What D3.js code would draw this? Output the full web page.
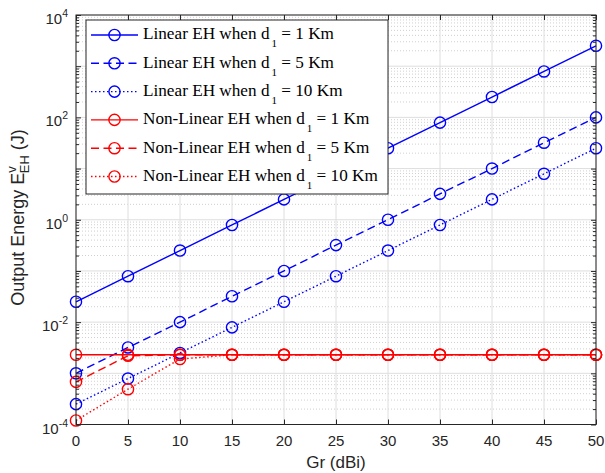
<!DOCTYPE html>
<html>
<head>
<meta charset="utf-8">
<script src="https://cdn.jsdelivr.net/npm/d3@7"></script>
<style>
  html, body { margin: 0; padding: 0; background: #fff; }
  svg { display: block; }
</style>
</head>
<body>
<svg id="chart" width="605" height="473"></svg>
<script>
// Receive antenna gain (dBi)
const gain = [0, 5, 10, 15, 20, 25, 30, 35, 40, 45, 50];

// Harvested energy (J) for each model and distance d1
const linear1km  = [0.025, 0.079, 0.25, 0.79, 2.5, 7.9, 25, 79, 250, 790, 2500];
const linear5km  = [0.001, 0.0032, 0.01, 0.032, 0.1, 0.32, 1.0, 3.2, 10, 32, 100];
const linear10km = [0.00025, 0.00079, 0.0025, 0.0079, 0.025, 0.079, 0.25, 0.79, 2.5, 7.9, 25];
const nonlin1km  = [0.0023, 0.0023, 0.0023, 0.0023, 0.0023, 0.0023, 0.0023, 0.0023, 0.0023, 0.0023, 0.0023];
const nonlin5km  = [0.00068, 0.0022, 0.0023, 0.0023, 0.0023, 0.0023, 0.0023, 0.0023, 0.0023, 0.0023, 0.0023];
const nonlin10km = [0.00012, 0.00049, 0.0019, 0.0023, 0.0023, 0.0023, 0.0023, 0.0023, 0.0023, 0.0023, 0.0023];

const xTicks = [0, 5, 10, 15, 20, 25, 30, 35, 40, 45, 50];
const yExponents = [-4, -2, 0, 2, 4];

const seriesNames = ["Linear EH", "Linear EH", "Linear EH", "Non-Linear EH", "Non-Linear EH", "Non-Linear EH"];
const seriesDist = [1, 5, 10, 1, 5, 10];

const series = [
  { values: linear1km,  color: "#0000ff", dash: null },
  { values: linear5km,  color: "#0000ff", dash: "8,4.5" },
  { values: linear10km, color: "#0000ff", dash: "1.5,2.5" },
  { values: nonlin1km,  color: "#ff0000", dash: null },
  { values: nonlin5km,  color: "#ff0000", dash: "8,4.5" },
  { values: nonlin10km, color: "#ff0000", dash: "1.5,2.5" }
].map((s, i) => ({ ...s, name: seriesNames[i], dist: seriesDist[i] }));

const svg = d3.select("#chart");
const plotL = 76, plotR = 596, plotT = 15, plotB = 424.5;
const axisColor = "#262626";
const sansFont = "'Liberation Sans', Arial, Helvetica, sans-serif";
const serifFont = "'Liberation Serif', 'Times New Roman', serif";

const x = d3.scaleLinear().domain([0, 50]).range([plotL, plotR]);
const y = d3.scaleLog().domain([1e-4, 1e4]).range([plotB, plotT]);

// Minor values: 2..9 in every decade
const minorVals = [];
for (let e = -4; e < 4; e++) {
  for (let m = 2; m <= 9; m++) minorVals.push(m * Math.pow(10, e));
}
const majorVals = d3.range(-4, 5).map(e => Math.pow(10, e));

const grid = svg.append("g");
// minor horizontal grid (dotted)
grid.selectAll("line.minor").data(minorVals).join("line")
  .attr("x1", plotL).attr("x2", plotR)
  .attr("y1", d => y(d)).attr("y2", d => y(d))
  .attr("stroke", "#c4c4c4").attr("stroke-width", 0.8)
  .attr("stroke-dasharray", "1,2");
// major horizontal grid
grid.selectAll("line.majy").data(majorVals).join("line")
  .attr("x1", plotL).attr("x2", plotR)
  .attr("y1", d => y(d)).attr("y2", d => y(d))
  .attr("stroke", "#dedede").attr("stroke-width", 1);
// vertical grid
grid.selectAll("line.majx").data(xTicks).join("line")
  .attr("x1", d => x(d)).attr("x2", d => x(d))
  .attr("y1", plotT).attr("y2", plotB)
  .attr("stroke", "#dedede").attr("stroke-width", 1);

// Series lines and markers
const line = d3.line().x((d, i) => x(gain[i])).y(d => y(d));
const plot = svg.append("g");
series.forEach(s => {
  plot.append("path")
    .attr("d", line(s.values))
    .attr("fill", "none")
    .attr("stroke", s.color)
    .attr("stroke-width", 1.4)
    .attr("stroke-dasharray", s.dash);
  plot.selectAll(null).data(s.values).join("circle")
    .attr("cx", (d, i) => x(gain[i]))
    .attr("cy", d => y(d))
    .attr("r", 5.6)
    .attr("fill", "none")
    .attr("stroke", s.color)
    .attr("stroke-width", 1.4);
});

// Axes box, ticks
const ax = svg.append("g");
ax.append("rect")
  .attr("x", plotL).attr("y", plotT)
  .attr("width", plotR - plotL).attr("height", plotB - plotT)
  .attr("fill", "none").attr("stroke", axisColor).attr("stroke-width", 1);

const xAxisB = d3.axisBottom(x).tickValues(xTicks).tickSize(-5).tickFormat("");
const xAxisT = d3.axisTop(x).tickValues(xTicks).tickSize(-5).tickFormat("");
ax.append("g").attr("transform", `translate(0,${plotB})`).call(xAxisB);
ax.append("g").attr("transform", `translate(0,${plotT})`).call(xAxisT);

const yMajL = d3.axisLeft(y).tickValues(majorVals).tickSize(-5).tickFormat("");
const yMajR = d3.axisRight(y).tickValues(majorVals).tickSize(-5).tickFormat("");
const yMinL = d3.axisLeft(y).tickValues(minorVals).tickSize(-3).tickFormat("");
const yMinR = d3.axisRight(y).tickValues(minorVals).tickSize(-3).tickFormat("");
ax.append("g").attr("transform", `translate(${plotL},0)`).call(yMajL);
ax.append("g").attr("transform", `translate(${plotR},0)`).call(yMajR);
ax.append("g").attr("transform", `translate(${plotL},0)`).call(yMinL);
ax.append("g").attr("transform", `translate(${plotR},0)`).call(yMinR);
ax.selectAll(".domain").remove();
ax.selectAll(".tick line").attr("stroke", axisColor);

// X tick labels
svg.append("g").selectAll("text").data(xTicks).join("text")
  .attr("x", d => x(d)).attr("y", 446)
  .attr("text-anchor", "middle")
  .attr("font-family", sansFont).attr("font-size", 15)
  .attr("fill", axisColor)
  .text(d => d);

// Y tick labels (powers of ten)
const yl = svg.append("g").selectAll("text").data(yExponents).join("text")
  .attr("x", 68).attr("y", d => y(Math.pow(10, d)) + 9)
  .attr("text-anchor", "end")
  .attr("font-family", sansFont).attr("font-size", 15)
  .attr("fill", axisColor);
yl.append("tspan").text("10");
yl.append("tspan").attr("dy", -7).attr("font-size", 10.5).text(d => d);

// Axis labels
svg.append("text")
  .attr("x", (plotL + plotR) / 2).attr("y", 468)
  .attr("text-anchor", "middle")
  .attr("font-family", sansFont).attr("font-size", 17)
  .attr("fill", axisColor)
  .text("Gr (dBi)");

const yLabel = svg.append("text")
  .attr("transform", `translate(23.5,217.5) rotate(-90)`)
  .attr("text-anchor", "middle")
  .attr("font-family", sansFont).attr("font-size", 18)
  .attr("fill", axisColor);
yLabel.append("tspan").text("Output Energy E");
yLabel.append("tspan").attr("dy", -7.5).attr("font-size", 13).text("v");
yLabel.append("tspan").attr("dx", -7).attr("dy", 13).attr("font-size", 13).text("EH");
yLabel.append("tspan").attr("dy", -5.5).text(" (J)");

// Legend
const lg = svg.append("g");
const lgX = 86, lgY = 20, lgW = 302, lgH = 174;
lg.append("rect")
  .attr("x", lgX).attr("y", lgY).attr("width", lgW).attr("height", lgH)
  .attr("fill", "#fff").attr("stroke", axisColor).attr("stroke-width", 1);
const rowY = d3.scaleLinear().domain([0, 5]).range([35, 176.5]);
series.forEach((s, i) => {
  const cy = rowY(i);
  lg.append("line")
    .attr("x1", 91).attr("x2", 138).attr("y1", cy).attr("y2", cy)
    .attr("stroke", s.color).attr("stroke-width", 1.4)
    .attr("stroke-dasharray", s.dash);
  lg.append("circle")
    .attr("cx", 114.5).attr("cy", cy).attr("r", 5.6)
    .attr("fill", "none").attr("stroke", s.color).attr("stroke-width", 1.4);
  const t = lg.append("text")
    .attr("x", 143).attr("y", cy + 4.3)
    .attr("font-family", serifFont).attr("font-size", 17.2)
    .attr("fill", "#000");
  t.append("tspan").text(`${s.name} when d`);
  t.append("tspan").attr("dx", 2).attr("dy", 8).attr("font-size", 11).text("1");
  t.append("tspan").attr("dy", -8).text(` = ${s.dist} Km`);
});
</script>
</body>
</html>
